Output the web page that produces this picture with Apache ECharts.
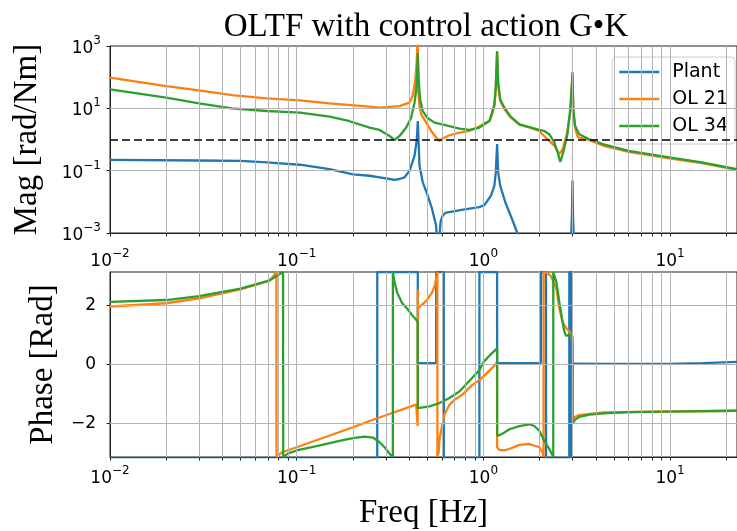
<!DOCTYPE html>
<html><head><meta charset="utf-8">
<script src="https://cdn.jsdelivr.net/npm/echarts@6/dist/echarts.min.js"></script>
<style>html,body{margin:0;padding:0;background:#fff}#c{width:737px;height:531px}</style>
</head><body><div id="c"></div>
<script>
// ---------- DATA ----------
const seriesNames = ['Plant', 'OL 21', 'OL 34'];
const seriesColors = ['#1f77b4', '#ff7f0e', '#2ca02c'];
const xTickVals = [0.01, 0.1, 1, 10];
const magTickVals = [0.001, 0.1, 10, 1000];
const phaseTickVals = [-2, 0, 2];
const unityGain = 1;

// magnitude [freq Hz, rad/Nm]
const plantMag = [[0.01,0.223],[0.03,0.212],[0.05,0.205],[0.069,0.184],[0.104,0.155],[0.15,0.112],[0.2,0.076],[0.2457,0.0687],[0.2779,0.061],[0.3143,0.054],[0.3343,0.051],[0.3555,0.054],[0.378,0.061],[0.402,0.099],[0.4276,0.30],[0.44,1.0],[0.4453,3.9],[0.4547,0.143],[0.4734,0.0423],[0.50,0.0178],[0.531,0.0059],[0.558,0.00174],[0.57,0.0002],[0.59,0.0023],[0.605,0.0036],[0.625,0.0044],[0.69,0.0049],[0.78,0.0056],[0.95,0.0068],[1.012,0.0078],[1.098,0.0158],[1.145,0.033],[1.165,0.088],[1.184,0.71],[1.2,0.088],[1.23,0.033],[1.31,0.0097],[1.4,0.0036],[1.52,0.001],[1.7,0.0003],[2.9,0.0002],[2.95,0.0006],[2.98,0.004],[3.0,0.048],[3.02,0.004],[3.05,0.0006],[3.2,0.0002],[22.8,0.0001]];
const ol21Mag = [[0.01,96],[0.02,51.6],[0.03,37.6],[0.045,26.6],[0.069,20.9],[0.104,18],[0.15,14.4],[0.2457,11.3],[0.2779,10.5],[0.3555,11.8],[0.402,15.2],[0.418,24.7],[0.432,84],[0.44,367],[0.4445,2000],[0.448,30],[0.4547,11.8],[0.4643,6.4],[0.494,3.49],[0.525,1.88],[0.558,1.16],[0.582,0.90],[0.605,1.08],[0.658,1.37],[0.744,1.67],[0.842,1.88],[0.952,2.6],[1.012,3.3],[1.077,3.93],[1.098,5.0],[1.145,11.8],[1.165,40],[1.184,680],[1.2,55],[1.23,18],[1.295,9.5],[1.4,5.1],[1.56,3.0],[1.8,2.35],[1.99,1.88],[2.117,1.30],[2.254,0.90],[2.40,0.625],[2.55,0.34],[2.66,0.49],[2.81,1.67],[2.92,7.3],[2.98,60],[3.0,120],[3.03,7],[3.1,2.3],[3.2,1.2],[3.7,0.95],[4.36,0.64],[6.0,0.40],[9.9,0.25],[14.8,0.175],[22.8,0.106]];
const ol34Mag = [[0.01,40.5],[0.02,22],[0.03,14.4],[0.045,10],[0.069,8.2],[0.104,7.3],[0.15,5.4],[0.19,3.93],[0.2457,2.42],[0.2779,2.03],[0.3143,1.30],[0.3343,0.95],[0.3555,1.30],[0.386,2.42],[0.41,5.0],[0.4276,15.2],[0.4366,40],[0.442,138],[0.4453,600],[0.45,84],[0.458,19.4],[0.4734,8.2],[0.50,5.0],[0.547,3.49],[0.625,2.87],[0.744,2.25],[0.842,2.03],[0.952,2.42],[1.077,3.93],[1.098,5.7],[1.145,13.4],[1.165,51.6],[1.184,680],[1.2,66],[1.23,19.4],[1.295,10.5],[1.4,5.4],[1.56,3.08],[1.8,2.42],[1.99,2.03],[2.117,1.88],[2.254,1.48],[2.40,0.80],[2.50,0.384],[2.58,0.19],[2.66,0.34],[2.81,1.30],[2.92,9.3],[2.98,66],[3.0,145],[3.03,9.3],[3.1,2.72],[3.26,1.48],[3.7,1.02],[4.36,0.71],[6.0,0.43],[9.9,0.266],[14.8,0.184],[22.8,0.111]];

// phase [freq Hz, rad]  (plant segments that sit hidden on the lower edge are kept just below -pi)
const plantPhase = [[0.01,-3.2],[0.27,-3.2],[0.2701,3.1416],[0.4453,3.1416],[0.4455,0.05],[0.5586,0.05],[0.559,3.1416],[0.6135,3.1416],[0.6137,-3.2],[0.9519,-3.2],[0.9521,3.1416],[1.184,3.1416],[1.1845,0.05],[2.035,0.05],[2.037,3.1416],[2.164,3.1416],[2.166,-3.2],[2.884,-3.2],[2.886,3.1416],[2.96,3.1416],[2.962,-3.2],[3.0,-3.2],[3.003,0.03],[5,0.02],[10,0.02],[15,0.05],[22.8,0.09]];
const ol21Phase = [[0.01,1.97],[0.02,2.08],[0.03,2.25],[0.05,2.55],[0.0717,2.85],[0.0779,3.1416],[0.078,-3.1416],[0.0835,-2.98],[0.1,-2.81],[0.133,-2.53],[0.2,-2.13],[0.2457,-1.92],[0.314,-1.68],[0.402,-1.44],[0.4366,-1.36],[0.4445,-2.09],[0.4453,2.55],[0.446,1.91],[0.4547,1.95],[0.4734,2.05],[0.5,2.2],[0.531,2.45],[0.547,2.65],[0.56,2.95],[0.567,3.1416],[0.5672,-3.1416],[0.575,-3.0],[0.582,-2.53],[0.6185,-1.7],[0.658,-1.37],[0.70,-1.2],[0.77,-1.03],[0.87,-0.7],[0.952,-0.53],[1.04,-0.3],[1.12,-0.1],[1.184,0.08],[1.1845,-2.81],[1.218,-2.9],[1.295,-2.92],[1.377,-2.87],[1.558,-2.73],[1.762,-2.70],[1.993,-2.81],[2.08,-3.0],[2.101,-3.1416],[2.1015,3.1416],[2.2,3.1],[2.3,3.0],[2.46,2.58],[2.549,1.91],[2.65,1.47],[2.77,1.25],[2.884,1.13],[2.96,0.97],[3.0,0.69],[3.003,-1.87],[3.1,-1.78],[3.26,-1.72],[3.7,-1.68],[4.4,-1.63],[10,-1.59],[22.8,-1.57]];
const ol34Phase = [[0.01,2.13],[0.02,2.19],[0.03,2.32],[0.05,2.58],[0.0717,2.86],[0.0845,3.1416],[0.0847,-3.1416],[0.09,-3.02],[0.1,-2.92],[0.133,-2.75],[0.177,-2.57],[0.2,-2.5],[0.23,-2.45],[0.256,-2.48],[0.2779,-2.64],[0.2955,-2.81],[0.3143,-3.03],[0.3273,-3.1416],[0.3275,3.1416],[0.334,2.8],[0.345,2.45],[0.366,2.1],[0.39,1.9],[0.418,1.65],[0.4366,1.52],[0.445,1.45],[0.4455,-1.48],[0.4547,-1.48],[0.514,-1.42],[0.582,-1.31],[0.658,-1.14],[0.744,-0.92],[0.842,-0.55],[0.95,-0.2],[1.0,0.08],[1.077,0.3],[1.184,0.55],[1.1845,-2.42],[1.218,-2.4],[1.295,-2.31],[1.377,-2.2],[1.558,-2.09],[1.762,-2.03],[1.874,-2.09],[1.993,-2.25],[2.117,-2.59],[2.254,-2.87],[2.3,-2.98],[2.367,-3.1416],[2.3675,3.1416],[2.46,2.8],[2.549,2.13],[2.65,1.47],[2.712,1.13],[2.77,0.97],[2.884,1.02],[2.95,1.02],[3.0,0.95],[3.003,-2.0],[3.1,-1.88],[3.26,-1.78],[3.7,-1.7],[4.4,-1.66],[6,-1.62],[10,-1.6],[22.8,-1.57]];

// ---------- CHART ----------
const XMIN = 0.01, XMAX = 22.82;
const SERIF = "'Liberation Serif', 'Times New Roman', serif";
const SANS = "'DejaVu Sans', sans-serif";
const GRID_C = '#b4b4b4', AX_C = '#222';

const xAll = [];
for (let k = -2; k <= 1; k++) for (let m = 1; m <= 9; m++) {
  const v = +(m * Math.pow(10, k)).toPrecision(3);
  if (v >= XMIN && v < XMAX) xAll.push(v);
}
const xInner = xAll.filter(v => v > XMIN);

function pow10(v) {
  const e = Math.round(Math.log10(v));
  const s = e < 0 ? '\u2212' + (-e) : String(e);
  return '{b|10}{s|' + s + '}';
}
const rich = {
  b: {fontFamily: SANS, fontSize: 17, color: '#000', lineHeight: 22, verticalAlign: 'bottom'},
  s: {fontFamily: SANS, fontSize: 12, color: '#000', lineHeight: 14, verticalAlign: 'top'}
};
const nameStyle = {fontFamily: SERIF, fontSize: 33, color: '#000'};

function xAxisDef(gi, margin, name) {
  return {
    type: 'log', logBase: 10, gridIndex: gi, min: XMIN, max: XMAX,
    axisLine: {show: true, onZero: false, lineStyle: {color: AX_C, width: 1}},
    axisTick: {show: true, inside: false, length: 3.5, customValues: xAll, lineStyle: {color: AX_C}},
    axisLabel: {show: true, customValues: xTickVals, formatter: pow10, rich: rich, margin: margin},
    splitLine: {show: false},
    name: name || '', nameLocation: 'middle', nameGap: 40, nameTextStyle: nameStyle
  };
}
function gridLines(gi, extra) {
  return {
    type: 'line', data: [], xAxisIndex: gi, yAxisIndex: gi, z: 1, silent: true, animation: false,
    markLine: {
      silent: true, animation: false, symbol: ['none', 'none'], label: {show: false},
      emphasis: {disabled: true},
      lineStyle: {color: GRID_C, width: 1, type: 'solid'},
      data: xInner.map(v => ({xAxis: v})).concat(extra)
    }
  };
}
function lineSeries(i, data, gi) {
  return {
    type: 'line', name: seriesNames[i], data: data, xAxisIndex: gi, yAxisIndex: gi,
    showSymbol: false, symbol: 'none', clip: true, animation: false, z: 2,
    lineStyle: {width: 2.3, color: seriesColors[i]}, itemStyle: {color: seriesColors[i]},
    emphasis: {disabled: true}
  };
}

const chart = echarts.init(document.getElementById('c'), null, {renderer: 'canvas'});
chart.setOption({
  animation: false,
  color: seriesColors,
  title: {
    text: 'OLTF with control action G\u2022K', left: 426, top: 11, textAlign: 'center', padding: 0,
    textStyle: {fontFamily: SERIF, fontSize: 33, fontWeight: 'normal', color: '#000'}
  },
  legend: {
    data: seriesNames, orient: 'vertical', right: 2, top: 57, selectedMode: false,
    icon: 'rect', itemWidth: 40, itemHeight: 2.5, itemGap: 7,
    padding: [5, 7, 8, 7],
    textStyle: {fontFamily: SANS, fontSize: 19, color: '#000', lineHeight: 20, padding: [0, 0, 0, 8]},
    backgroundColor: 'rgba(255,255,255,0.8)', borderColor: '#cccccc', borderWidth: 1, borderRadius: 4
  },
  grid: [
    {left: 110, top: 46, width: 628, height: 187, show: true, borderColor: AX_C, borderWidth: 1, backgroundColor: 'rgba(0,0,0,0)'},
    {left: 110, top: 272, width: 628, height: 187, show: true, borderColor: AX_C, borderWidth: 1, backgroundColor: 'rgba(0,0,0,0)'}
  ],
  xAxis: [xAxisDef(0, 15), xAxisDef(1, 8, 'Freq [Hz]')],
  yAxis: [
    {
      type: 'log', logBase: 10, gridIndex: 0, min: 0.001, max: 1000,
      axisLine: {show: true, lineStyle: {color: AX_C}},
      axisTick: {show: true, length: 3.5, customValues: magTickVals, lineStyle: {color: AX_C}},
      axisLabel: {customValues: magTickVals, formatter: pow10, rich: rich, margin: 9},
      splitLine: {show: false},
      name: 'Mag [rad/Nm]', nameLocation: 'middle', nameRotate: 90, nameGap: 66, nameTextStyle: nameStyle
    },
    {
      type: 'value', gridIndex: 1, min: -3.1416, max: 3.1416,
      axisLine: {show: true, onZero: false, lineStyle: {color: AX_C}},
      axisTick: {show: true, length: 3.5, customValues: phaseTickVals, lineStyle: {color: AX_C}},
      axisLabel: {customValues: phaseTickVals, margin: 14, fontFamily: SANS, fontSize: 17, color: '#000',
        formatter: v => (v < 0 ? '\u2212' + (-v) : String(v))},
      splitLine: {show: false},
      name: 'Phase [Rad]', nameLocation: 'middle', nameRotate: 90, nameGap: 48, nameTextStyle: nameStyle
    }
  ],
  series: [
    gridLines(0, magTickVals.slice(1, 3).map(v => ({yAxis: v}))),
    gridLines(1, phaseTickVals.map(v => ({yAxis: v}))),
    lineSeries(0, plantMag, 0),
    lineSeries(1, ol21Mag, 0),
    lineSeries(2, ol34Mag, 0),
    {
      type: 'line', data: [], xAxisIndex: 0, yAxisIndex: 0, z: 3, silent: true, animation: false,
      markLine: {silent: true, animation: false, symbol: ['none', 'none'], label: {show: false},
        emphasis: {disabled: true},
        lineStyle: {color: '#000', width: 1.5, type: [8, 4]}, data: [{yAxis: unityGain}]}
    },
    lineSeries(0, plantPhase, 1),
    lineSeries(1, ol21Phase, 1),
    lineSeries(2, ol34Phase, 1)
  ]
});
</script>
</body></html>
